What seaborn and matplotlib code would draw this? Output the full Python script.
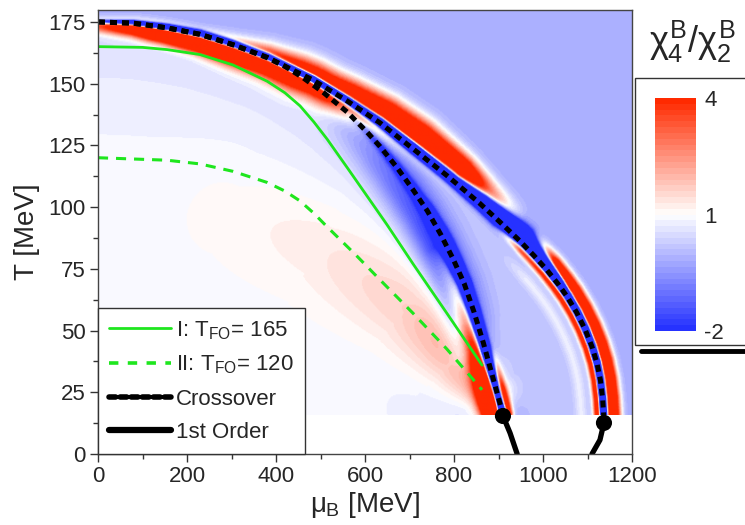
import numpy as np
import matplotlib
matplotlib.use("Agg")
import matplotlib.pyplot as plt
import seaborn as sns
from matplotlib.colors import LinearSegmentedColormap
from matplotlib.lines import Line2D
from matplotlib.patches import Rectangle
from matplotlib.ticker import MultipleLocator

# ---------------- data ----------------
outer_mu = [0, 79, 155, 229, 303, 380, 483, 560, 634, 708, 784, 858, 903, 948, 980,
            1009, 1035, 1054, 1076, 1095, 1110, 1121, 1129, 1134, 1137]
outer_T = [175, 174.5, 172.6, 170, 165.8, 160.6, 151.5, 143, 134.1, 123.6, 112.8,
           101.5, 94, 86.3, 80.3, 74.5, 68.6, 63.8, 57.2, 50.3, 43.5, 37, 30, 22.5, 13.8]

inner_mu = [0, 79, 155, 229, 303, 380, 420, 460, 506, 560, 604, 634, 672, 708, 740, 770,
            798, 823, 845, 866, 885, 903, 910]
inner_T = [175, 174.5, 172.6, 170, 165.8, 160.6, 157, 152.5, 146.5, 138.5, 130.5, 124.5,
           116, 107, 98.5, 89, 79, 69, 57.5, 45, 32.5, 20.7, 15.8]

fo1_mu = [0, 100, 155, 229, 303, 380, 420, 454, 485, 515, 560, 649, 708, 784, 863]
fo1_T = [165, 164.7, 163.8, 161.8, 157.6, 151, 146.3, 141, 134.5, 127.5, 116, 93, 77, 57, 36]

fo2_mu = [0, 155, 229, 303, 380, 420, 454, 485, 515, 580, 634, 708, 784, 863]
fo2_T = [120, 119, 117.5, 114.5, 110, 106.5, 102.5, 97.5, 92, 80.5, 70.5, 57, 42.5, 26]

first_left_mu = [910, 926, 942]
first_left_T = [15.4, 8.5, 0]
first_right_mu = [1137, 1128, 1110]
first_right_T = [12.6, 5.7, 0]

cep_mu = [910, 1137]
cep_T = [15.4, 12.6]

# ridge of the pink region between the freeze-out lines
pink_mu = [300, 500, 700, 820, 880]
pink_T = [100, 85, 60, 40, 25]

cbar_ticks = [-2, 1, 4]

# ---------------- field construction ----------------
PX_MU = 534 / 1200
PX_T = 432 / 175

mu_g = np.linspace(0, 1200, 601)
T_g = np.linspace(15.8, 180, 412)
MU, TT = np.meshgrid(mu_g, T_g)
U = MU * PX_MU
V = TT * PX_T


def poly_dist(cmu, cT, ext_start=None, ext_end=None):
    cmu = list(cmu)
    cT = list(cT)
    if ext_start is not None:
        cmu = [ext_start[0]] + cmu
        cT = [ext_start[1]] + cT
    if ext_end is not None:
        cmu = cmu + [ext_end[0]]
        cT = cT + [ext_end[1]]
    cu = np.array(cmu) * PX_MU
    cv = np.array(cT) * PX_T
    best = np.full(U.shape, np.inf)
    sgn = np.ones(U.shape)
    near = np.zeros(U.shape)
    for i in range(len(cu) - 1):
        ax_, ay_ = cu[i], cv[i]
        dx, dy = cu[i + 1] - ax_, cv[i + 1] - ay_
        L2 = dx * dx + dy * dy
        t = np.clip(((U - ax_) * dx + (V - ay_) * dy) / L2, 0, 1)
        px = ax_ + t * dx
        py = ay_ + t * dy
        d = np.hypot(U - px, V - py)
        cross = dx * (V - ay_) - dy * (U - ax_)
        m = d < best
        best = np.where(m, d, best)
        sgn = np.where(m, np.where(cross >= 0, 1.0, -1.0), sgn)
        near = np.where(m, px, near)
    return best * sgn, near / PX_MU


def g(d, off, sig):
    return np.exp(-((d - off) ** 2) / (2 * sig ** 2))


sd_o, m_o = poly_dist(outer_mu, outer_T, (-60, 175.5), (1139, -10))
sd_i, m_i = poly_dist(inner_mu, inner_T, (-60, 175.5), (915, -10))
d_p, m_p = poly_dist(pink_mu, pink_T)
d_p = np.abs(d_p)

w_out = 0.5 * (1 + np.tanh(sd_o / 3))
w_bet = 0.5 * (1 + np.tanh(sd_i / 3))
inside_val = 0.97 - 0.6 * np.exp(np.minimum(sd_i, 0) / 70)
base = w_out * (-0.15) + (1 - w_out) * (w_bet * 0.15 + (1 - w_bet) * inside_val)
f = base.copy()

# pink region
f += np.interp(m_p, [300, 500, 700, 820, 880], [0.15, 0.4, 0.9, 1.8, 3.5]) * \
    g(d_p, 0, np.interp(m_p, [300, 500, 700, 820, 880], [40, 38, 32, 24, 14]))
# red band along upper crossover (centre moves from inside to outside)
f += np.interp(m_o, [0, 120, 800, 860, 930], [3, 7, 7, 3, 0]) * g(
    sd_o,
    np.interp(m_o, [0, 225, 303, 450, 520, 634, 708, 860],
              [-4, -9, -8, -1, 2, 11, 15, 15]),
    np.interp(m_o, [0, 225, 450, 700, 860], [5, 7, 12, 11, 8]))
# outer lower red bands
f += np.interp(m_o, [940, 1010, 1140], [0, 7, 7]) * g(sd_o, 10, 5)
f += np.interp(m_o, [900, 960, 1140], [0, 6, 6]) * g(sd_o, -5, 3)
f += np.interp(m_o, [940, 1000, 1140], [0, 0.6, 0.6]) * g(sd_o, -22, 4)
# outer blue line
f += np.interp(m_o, [0, 150, 1140], [-3, -14, -14]) * g(
    sd_o,
    np.interp(m_o, [0, 800, 950, 1050, 1140], [0.5, 1, 5, 1, 0]),
    np.interp(m_o, [0, 400, 800, 950, 1050, 1140], [1.5, 2.5, 3.5, 6, 3, 2.5]))
# inner branch
f += np.interp(m_i, [520, 650, 780, 870, 910], [0, -1.2, -2.2, -2.0, 0]) * g(sd_i, -12, 14)
f += np.interp(m_i, [500, 700, 880], [0, -0.5, -0.4]) * g(sd_i, 8, 10)
f += np.interp(m_i, [780, 850, 905], [0, 3, 8]) * g(sd_i, -10, 7)
f += np.interp(m_i, [870, 905], [0, 5]) * g(sd_i, 6, 3)
f += np.interp(m_i, [420, 600, 720, 780, 920], [0, -1, -3, -12, -12]) * g(
    sd_i, 0, np.interp(m_i, [447, 780, 900], [2, 4, 3]))

f = np.clip(f, -2, 4)

# ---------------- plotting ----------------
sns.set_theme(style="ticks")
plt.rcParams['font.family'] = ['Liberation Sans', 'DejaVu Sans']
plt.rcParams['mathtext.fontset'] = 'custom'
plt.rcParams['mathtext.rm'] = 'Liberation Sans'
plt.rcParams['mathtext.it'] = 'Liberation Sans'
plt.rcParams['mathtext.bf'] = 'Liberation Sans:bold'

fig = plt.figure(figsize=(7.45, 5.25), dpi=100)
ax = fig.add_axes([98 / 745, 1 - 454 / 525, 534 / 745, (454 - 9.6) / 525])

cmap = LinearSegmentedColormap.from_list("bwr2", ["#2632ff", "#ffffff", "#ff2a00"]).resampled(40)
im = ax.imshow(f, extent=[0, 1200, 15.8, 180], origin="lower", aspect="auto",
               cmap=cmap, vmin=-2, vmax=4, interpolation="bilinear", zorder=0)

GREEN = "#1ee61e"
sns.lineplot(x=fo1_mu, y=fo1_T, ax=ax, color=GREEN, lw=2.0, sort=False, estimator=None)
sns.lineplot(x=fo2_mu, y=fo2_T, ax=ax, color=GREEN, lw=2.2, sort=False, estimator=None)
ax.lines[-1].set_dashes([3.3, 2.6])
sns.lineplot(x=outer_mu, y=outer_T, ax=ax, color="black", lw=3.6, sort=False, estimator=None)
ax.lines[-1].set_dashes([1.4, 1.0])
sns.lineplot(x=inner_mu, y=inner_T, ax=ax, color="black", lw=3.6, sort=False, estimator=None)
ax.lines[-1].set_dashes([1.4, 1.0])
sns.lineplot(x=first_left_mu, y=first_left_T, ax=ax, color="black", lw=3.8, sort=False,
             estimator=None, solid_capstyle="round")
sns.lineplot(x=first_right_mu, y=first_right_T, ax=ax, color="black", lw=3.8, sort=False,
             estimator=None, solid_capstyle="round")
sns.scatterplot(x=cep_mu, y=cep_T, ax=ax, color="black", s=135, edgecolor="none", zorder=5,
                clip_on=False)

ax.set_xlim(0, 1200)
ax.set_ylim(0, 180)
ax.set_xticks([0, 200, 400, 600, 800, 1000, 1200])
ax.set_yticks([0, 25, 50, 75, 100, 125, 150, 175])
ax.xaxis.set_minor_locator(MultipleLocator(100))
ax.yaxis.set_minor_locator(MultipleLocator(12.5))
ax.tick_params(which="major", length=6, width=1, direction="out", labelsize=16, pad=3,
               color="#333333")
ax.tick_params(which="minor", length=3.5, width=1, direction="out", color="#333333")
for s in ax.spines.values():
    s.set_color("#444444")
    s.set_linewidth(1)
ax.set_xlabel(r"$\mu_{\rm B}$ [MeV]", fontsize=20, labelpad=2)
ax.set_ylabel("T [MeV]", fontsize=20, labelpad=6)

handles = [
    Line2D([], [], color=GREEN, lw=2.0),
    Line2D([], [], color=GREEN, lw=2.6, dashes=[2.6, 2.6]),
    Line2D([], [], color="black", lw=4, dashes=[1.2, 0.8], dash_capstyle="round"),
    Line2D([], [], color="black", lw=4.5, solid_capstyle="round"),
]
labels = [r"I: T$_{\rm FO}$= 165", r"II: T$_{\rm FO}$= 120", "Crossover", "1st Order"]
leg = ax.legend(handles, labels, loc="lower left", bbox_to_anchor=(0, 0), borderaxespad=0,
                fontsize=16, handlelength=2.8, handletextpad=0.2, labelspacing=0.55,
                borderpad=0.5, fancybox=False, framealpha=1, edgecolor="#333333")
leg.get_frame().set_linewidth(1)
leg.set_zorder(10)

# colorbar box
fig.patches.append(Rectangle((635 / 745, 1 - 345 / 525), 120 / 745, (345 - 78) / 525,
                             transform=fig.transFigure, facecolor="white",
                             edgecolor="#333333", lw=1, zorder=1))
fig.lines.append(Line2D([641 / 745, 1.0], [1 - 351 / 525, 1 - 351 / 525],
                        transform=fig.transFigure, color="black", lw=3.5))
cax = fig.add_axes([655 / 745, 1 - 331 / 525, 41 / 745, 233 / 525])
cax.set_zorder(3)
cb = fig.colorbar(im, cax=cax, ticks=cbar_ticks)
cb.outline.set_visible(False)
cax.tick_params(length=0, labelsize=16, pad=6)
cax.set_yticklabels([str(t) for t in cbar_ticks])
fig.text(692 / 745, 1 - 42 / 525, r"$\chi_4^B/\chi_2^B$", ha="center", va="center",
         fontsize=26)

fig.savefig("out.png", dpi=100)
